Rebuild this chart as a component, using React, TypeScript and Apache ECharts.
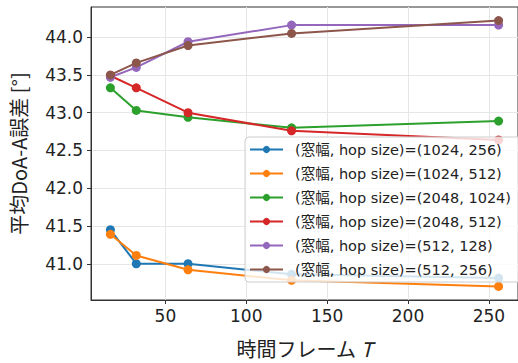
import React, { useEffect, useRef } from "react";
import * as echarts from "echarts";

const frames = [16, 32, 64, 128, 256];
const seriesNames = [
  "(窓幅, hop size)=(1024, 256)",
  "(窓幅, hop size)=(1024, 512)",
  "(窓幅, hop size)=(2048, 1024)",
  "(窓幅, hop size)=(2048, 512)",
  "(窓幅, hop size)=(512, 128)",
  "(窓幅, hop size)=(512, 256)",
];
const s1024_256 = [41.45, 41.0, 41.0, 40.86, 40.81];
const s1024_512 = [41.39, 41.11, 40.92, 40.78, 40.7];
const s2048_1024 = [43.33, 43.03, 42.94, 42.8, 42.89];
const s2048_512 = [43.49, 43.33, 43.0, 42.76, 42.64];
const s512_128 = [43.47, 43.6, 43.94, 44.16, 44.16];
const s512_256 = [43.5, 43.66, 43.89, 44.05, 44.22];
const allValues = [s1024_256, s1024_512, s2048_1024, s2048_512, s512_128, s512_256];
const colors = ["#1f77b4", "#ff7f0e", "#2ca02c", "#d62728", "#9467bd", "#8c564b"];
const xTicks = [50, 100, 150, 200, 250];
const yTicks = [41.0, 41.5, 42.0, 42.5, 43.0, 43.5, 44.0];

const FONT = "'DejaVu Sans', 'Noto Sans CJK JP', sans-serif";
const NAME_FONT = "'Noto Sans CJK JP', 'DejaVu Sans', sans-serif";

export default function App() {
  const ref = useRef<HTMLDivElement>(null);
  useEffect(() => {
    if (!ref.current) return;
    const chart = echarts.init(ref.current, undefined, { renderer: "svg" });
    chart.setOption({
      animation: false,
      textStyle: { fontFamily: FONT },
      grid: { left: 83, top: 7, right: -7, bottom: 51, show: true, borderColor: "#333", borderWidth: 1 },
      xAxis: {
        type: "value",
        min: 4,
        max: 268,
        name: "時間フレーム {i|T}",
        nameLocation: "middle",
        nameGap: 38,
        nameTextStyle: {
          fontSize: 20,
          color: "#222",
          fontFamily: NAME_FONT,
          rich: { i: { fontSize: 20, color: "#222", fontStyle: "italic", fontFamily: NAME_FONT } },
        },
        axisLine: { show: true, lineStyle: { color: "#333" } },
        axisTick: { show: true, length: 4, customValues: xTicks, lineStyle: { color: "#333" } },
        axisLabel: { customValues: xTicks, fontSize: 17, color: "#222", margin: 7, fontFamily: FONT },
        splitLine: { show: true, lineStyle: { color: "#e6e6e6" } },
      },
      yAxis: {
        type: "value",
        min: 40.52,
        max: 44.4,
        name: "平均DoA-A誤差 [°]",
        nameLocation: "middle",
        nameGap: 63,
        nameRotate: 90,
        nameTextStyle: { fontSize: 20, color: "#222", fontFamily: NAME_FONT },
        axisLine: { show: true, lineStyle: { color: "#333" } },
        axisTick: { show: true, length: 4, customValues: yTicks, lineStyle: { color: "#333" } },
        axisLabel: {
          customValues: yTicks,
          fontSize: 17,
          color: "#222",
          margin: 8,
          fontFamily: FONT,
          formatter: (v: number) => v.toFixed(1),
        },
        splitLine: { show: true, lineStyle: { color: "#e6e6e6" } },
      },
      legend: {
        orient: "vertical",
        left: 245,
        top: 137,
        itemWidth: 33,
        itemHeight: 9,
        itemGap: 5,
        padding: [3, 11, 3, 4],
        backgroundColor: "rgba(255,255,255,0.8)",
        borderColor: "#cccccc",
        borderWidth: 1,
        borderRadius: 4,
        textStyle: { fontSize: 14.5, color: "#222", fontFamily: FONT, lineHeight: 19, padding: [0, 0, 0, 7] },
        data: seriesNames,
      },
      series: allValues.map((vals, i) => ({
        name: seriesNames[i],
        type: "line",
        data: frames.map((f, j) => [f, vals[j]]),
        symbol: "circle",
        symbolSize: 9,
        showSymbol: true,
        lineStyle: { width: 2, color: colors[i] },
        itemStyle: { color: colors[i] },
        color: colors[i],
        z: 2,
      })),
    });
    return () => chart.dispose();
  }, []);
  return <div ref={ref} style={{ width: 518, height: 363, position: "absolute", left: 0, top: 0 }} />;
}
